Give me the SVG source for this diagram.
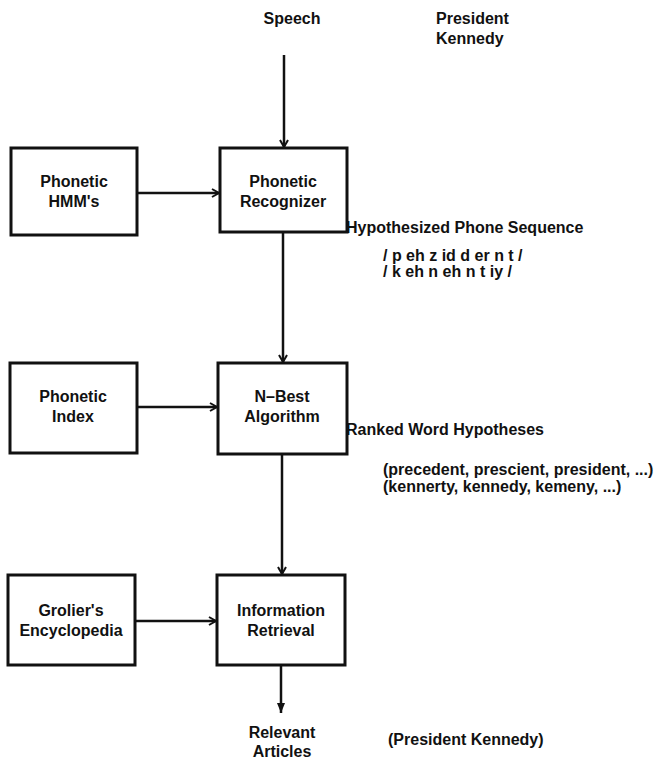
<svg xmlns="http://www.w3.org/2000/svg" width="657" height="766" viewBox="0 0 657 766">
<defs>
<style>
.t{font-family:"Liberation Sans",Arial,sans-serif;font-size:16px;font-weight:bold;fill:#111;}
.c{text-anchor:middle;}
.box{fill:#fff;stroke:#111;stroke-width:3;}
.ln{stroke:#111;stroke-width:2.5;fill:none;}
</style>
<marker id="chev" markerWidth="10" markerHeight="10" refX="8" refY="5" orient="auto" markerUnits="userSpaceOnUse">
<path d="M1,1 L8,5 L1,9" fill="none" stroke="#111" stroke-width="2"/>
</marker>
<marker id="tri" markerWidth="10" markerHeight="20" refX="10" refY="5" orient="auto" markerUnits="userSpaceOnUse">
<path d="M0,1 L10,5 L0,9 Z" fill="#111"/>
</marker>
</defs>
<rect width="657" height="766" fill="#fff"/>
<g id="connectors">
<line class="ln" x1="284" y1="55" x2="284" y2="147" marker-end="url(#chev)"/>
<line class="ln" x1="137" y1="193" x2="219" y2="193" marker-end="url(#chev)"/>
<line class="ln" x1="283" y1="232" x2="283" y2="362" marker-end="url(#chev)"/>
<line class="ln" x1="137" y1="407" x2="217" y2="407" marker-end="url(#chev)"/>
<line class="ln" x1="282" y1="454" x2="282" y2="574" marker-end="url(#chev)"/>
<line class="ln" x1="135" y1="621" x2="216" y2="621" marker-end="url(#chev)"/>
<line class="ln" x1="281" y1="665" x2="281" y2="713" marker-end="url(#tri)"/>
</g>
<g id="speech"><text class="t c" x="292" y="24">Speech</text></g>
<g id="example-input"><text class="t" x="436" y="24">President</text><text class="t" x="436" y="44">Kennedy</text></g>
<g id="phonetic-hmms"><rect class="box" x="11" y="148" width="126" height="87"/><text class="t c" x="74" y="187">Phonetic</text><text class="t c" x="74" y="207">HMM's</text></g>
<g id="phonetic-recognizer"><rect class="box" x="220" y="148" width="127" height="84"/><text class="t c" x="283" y="187">Phonetic</text><text class="t c" x="283" y="207">Recognizer</text></g>
<g id="phone-sequence"><text class="t" x="346" y="233">Hypothesized Phone Sequence</text><text class="t" x="383" y="261">/ p eh z id d er n t /</text><text class="t" x="383" y="277">/ k eh n eh n t iy /</text></g>
<g id="phonetic-index"><rect class="box" x="10" y="363" width="127" height="90"/><text class="t c" x="73" y="402">Phonetic</text><text class="t c" x="73" y="422">Index</text></g>
<g id="n-best"><rect class="box" x="218" y="363" width="129" height="91"/><text class="t c" x="282" y="402">N–Best</text><text class="t c" x="282" y="422">Algorithm</text></g>
<g id="word-hypotheses"><text class="t" x="346" y="435">Ranked Word Hypotheses</text><text class="t" x="383" y="475">(precedent, prescient, president, ...)</text><text class="t" x="383" y="492">(kennerty, kennedy, kemeny, ...)</text></g>
<g id="groliers"><rect class="box" x="8" y="575" width="127" height="90"/><text class="t c" x="71" y="616">Grolier's</text><text class="t c" x="71" y="636">Encyclopedia</text></g>
<g id="information-retrieval"><rect class="box" x="217" y="575" width="128" height="90"/><text class="t c" x="281" y="616">Information</text><text class="t c" x="281" y="636">Retrieval</text></g>
<g id="relevant-articles"><text class="t c" x="282" y="738">Relevant</text><text class="t c" x="282" y="757">Articles</text></g>
<g id="example-output"><text class="t" x="388" y="745">(President Kennedy)</text></g>
</svg>
